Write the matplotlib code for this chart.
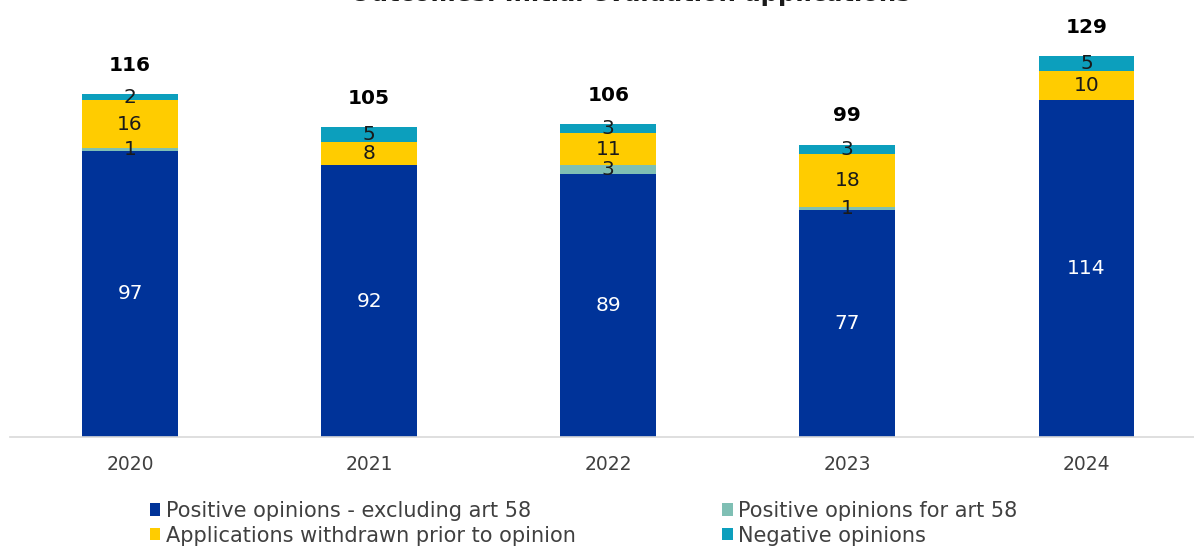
import matplotlib.pyplot as plt
import numpy as np

years = ["2020", "2021", "2022", "2023", "2024"]
pos_excl = [97, 92, 89, 77, 114]
pos_art58 = [1, 0, 3, 1, 0]
withdrawn = [16, 8, 11, 18, 10]
negative = [2, 5, 3, 3, 5]

series = [
    ("Positive opinions - excluding art 58", pos_excl, "#003399", "white"),
    ("Positive opinions for art 58", pos_art58, "#7fbfb4", "#1a1a1a"),
    ("Applications withdrawn prior to opinion", withdrawn, "#ffcc00", "#1a1a1a"),
    ("Negative opinions", negative, "#0c9fbd", "#1a1a1a"),
]

plt.rcParams["font.family"] = ["DejaVu Sans"]

fig = plt.figure(figsize=(11.94, 5.48), dpi=100)
ax = fig.add_axes([10 / 1194, 1 - 437 / 548, 1 - 10 / 1194, 437 / 548])

x = np.arange(len(years))
bottom = np.zeros(len(years))
bars = {}
for name, vals, color, tcol in series:
    vals = np.array(vals, dtype=float)
    bars[name] = ax.bar(x, vals, 0.4, bottom=bottom, color=color, label=name)
    for xi, b, v in zip(x, bottom, vals):
        if v > 0:
            ax.text(xi, b + v / 2, f"{int(v)}", ha="center", va="center",
                    color=tcol, fontsize=14.5)
    bottom += vals

for xi, tot in zip(x, bottom):
    ax.text(xi, tot + 6.5, f"{int(tot)}", ha="center", va="bottom",
            fontsize=14.5, fontweight="bold", color="black")

ax.set_xlim(-0.502, 4.45)
ax.set_ylim(0, 148)
ax.set_yticks([])
ax.set_xticks(x)
ax.set_xticklabels(years, fontsize=13.5, color="#404040")
ax.tick_params(axis="x", length=0, pad=13)
for s in ["top", "right", "left"]:
    ax.spines[s].set_visible(False)
ax.spines["bottom"].set_color("#d9d9d9")
ax.spines["bottom"].set_linewidth(1.2)

fig.text(0.528, 1.011, "Outcomes: Initial evaluation applications", ha="center",
         va="center", fontsize=17.5, fontweight="bold", color="#1a1a1a")

order = [series[0][0], series[2][0], series[1][0], series[3][0]]
leg = fig.legend([bars[n] for n in order], order, ncol=2,
                 loc="upper left", bbox_to_anchor=(150 / 1194, 1 - 501 / 548),
                 borderaxespad=0, borderpad=0,
                 frameon=False, fontsize=15, handlelength=0.5, handleheight=0.55,
                 handletextpad=0.25, columnspacing=7.05, labelspacing=0.22)
for t in leg.get_texts():
    t.set_color("#404040")

fig.savefig("out.png", dpi=100)
